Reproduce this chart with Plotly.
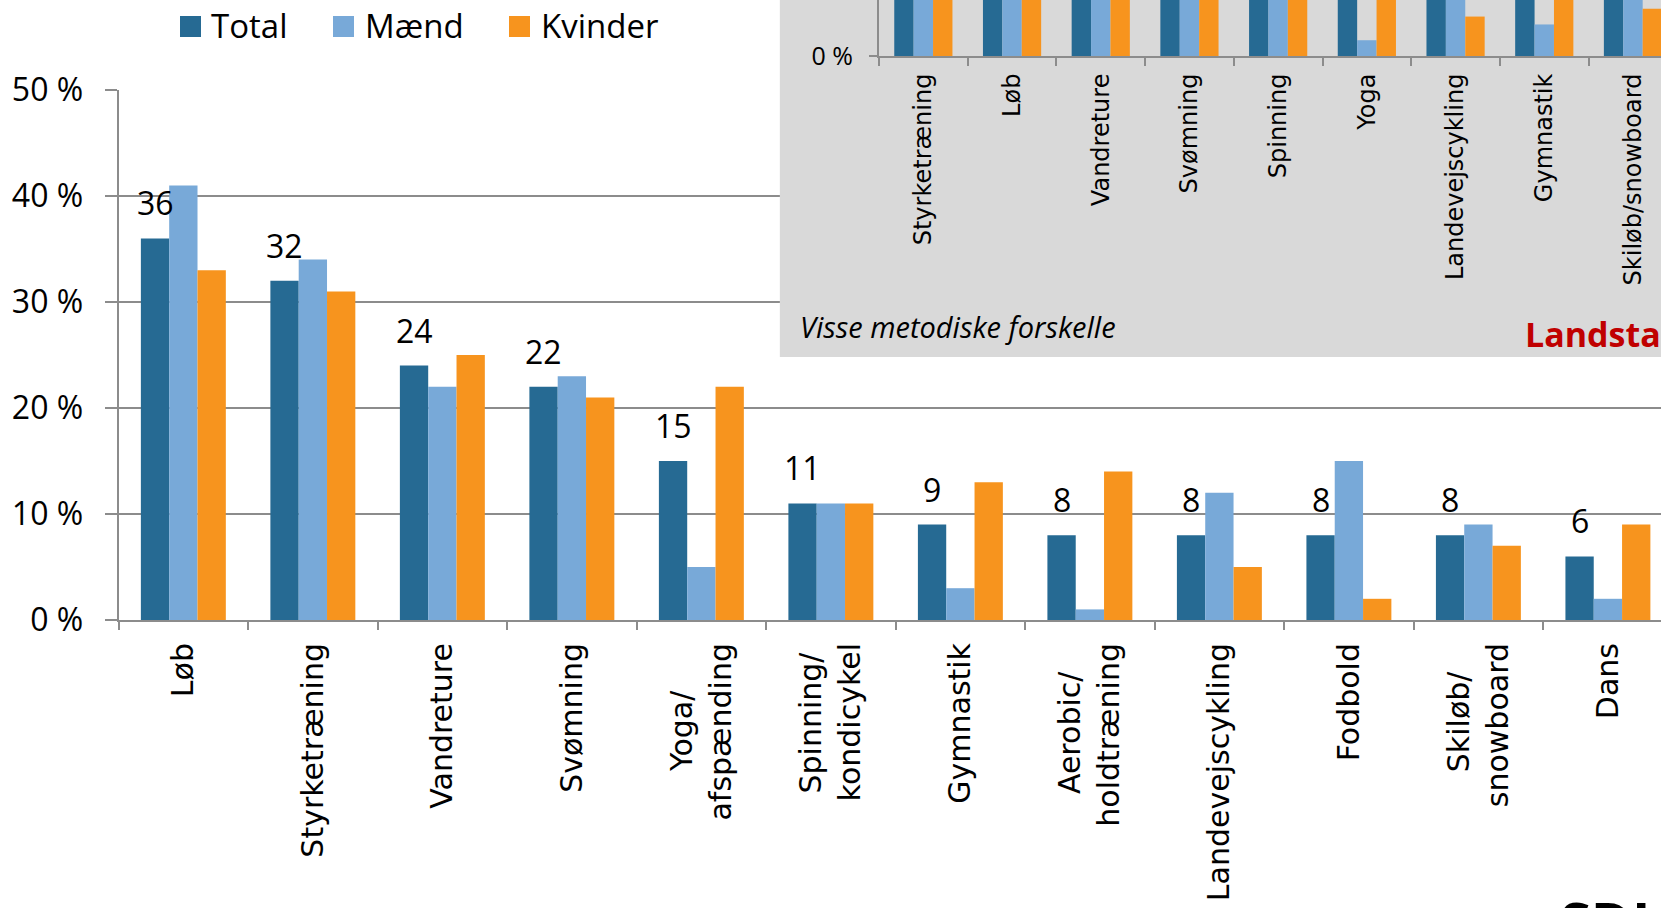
import plotly.graph_objects as go

# ---------------- data ----------------
categories = ["Løb", "Styrketræning", "Vandreture", "Svømning", "Yoga/afspænding",
              "Spinning/kondicykel", "Gymnastik", "Aerobic/holdtræning",
              "Landevejscykling", "Fodbold", "Skiløb/snowboard", "Dans"]
total = [36, 32, 24, 22, 15, 11, 9, 8, 8, 8, 8, 6]
maend = [41, 34, 22, 23, 5, 11, 3, 1, 12, 15, 9, 2]
kvinder = [33, 31, 25, 21, 22, 11, 13, 14, 5, 2, 7, 9]
y_ticks = [0, 10, 20, 30, 40, 50]
y_tick_text = ["0 %", "10 %", "20 %", "30 %", "40 %", "50 %"]

inset_categories = ["Styrketræning", "Løb", "Vandreture", "Svømning", "Spinning",
                    "Yoga", "Landevejscykling", "Gymnastik", "Skiløb/snowboard"]
inset_total = [24, 21, 19, 17, 12, 10, 9, 9, 9]
inset_maend = [23, 22, 17, 15, 11, 2, 13, 4, 11]
inset_kvinder = [25, 20, 21, 19, 13, 17, 5, 14, 6]

series_names = ["Total", "Mænd", "Kvinder"]

# ---------------- style ----------------
W, H = 1661, 908
C_TOTAL, C_MAEND, C_KVINDER = "#266A93", "#78A9D8", "#F7941E"
GRAY = "#8c8c8c"
NB = "\u00a0"
# padding (in no-break spaces) of the shorter line so two-line labels look centred
line_pad = {"Yoga/afspænding": 5, "Spinning/kondicykel": 1,
            "Aerobic/holdtræning": 3, "Skiløb/snowboard": 3}


def label(cat):
    if cat in line_pad:
        a, b = cat.split("/")
        return a + "/" + NB * line_pad[cat] + "<br>" + b
    return cat


x_labels = [label(c) for c in categories]

def px_x(p):
    return p / W

def px_y(p):
    return 1 - p / H

BARGAP = 0.344
main_left, main_top, main_bottom = 118.6, 90.0, 620.0
main_range = [-0.5, 11.41]
cat_px = (W - main_left) / (main_range[1] - main_range[0])
bar_px = cat_px * (1 - BARGAP) / 3

fig = go.Figure()

# main bars
for name, vals, col in zip(series_names, [total, maend, kvinder], [C_TOTAL, C_MAEND, C_KVINDER]):
    fig.add_trace(go.Bar(x=x_labels, y=vals, name=name, marker=dict(color=col, line=dict(width=0)),
                         xaxis="x", yaxis="y", hoverinfo="skip"))

# grey inset background (own subplot so that it covers the main grid lines)
fig.add_trace(go.Scatter(x=[0, 1, 1, 0, 0], y=[0, 0, 1, 1, 0], fill="toself", mode="lines",
                         fillcolor="#D9D9D9", line=dict(width=0), xaxis="x2", yaxis="y2",
                         hoverinfo="skip"))

# inset bars
for name, vals, col in zip(series_names, [inset_total, inset_maend, inset_kvinder],
                           [C_TOTAL, C_MAEND, C_KVINDER]):
    fig.add_trace(go.Bar(x=inset_categories, y=vals, name=name,
                         marker=dict(color=col, line=dict(width=0)),
                         xaxis="x3", yaxis="y3", hoverinfo="skip"))

annotations = []
# data labels above the Total bars
for c, v in zip(x_labels, total):
    annotations.append(dict(x=c, y=v, xref="x", yref="y", text=str(v), showarrow=False,
                            xanchor="center", yanchor="bottom", xshift=-bar_px, yshift=12,
                            font=dict(family="Open Sans", size=32, color="#000")))

# manual legend
legend_items = [(180, 209), (333, 363), (509, 539)]
shapes = []
for (sq_x, tx), name, col in zip(legend_items, series_names, [C_TOTAL, C_MAEND, C_KVINDER]):
    shapes.append(dict(type="rect", xref="paper", yref="paper",
                       x0=px_x(sq_x), x1=px_x(sq_x + 21), y0=px_y(37), y1=px_y(16),
                       fillcolor=col, line=dict(width=0)))
    annotations.append(dict(x=px_x(tx), y=px_y(25), xref="paper", yref="paper", text=name,
                            showarrow=False, xanchor="left", yanchor="middle",
                            font=dict(family="Open Sans", size=33, color="#000")))

annotations.append(dict(x=px_x(798), y=px_y(326), xref="paper", yref="paper",
                        text="<i>Visse metodiske forskelle</i>", showarrow=False,
                        xanchor="left", yanchor="middle",
                        font=dict(family="Open Sans", size=29, color="#000")))
annotations.append(dict(x=px_x(1523), y=px_y(334), xref="paper", yref="paper",
                        text="<b>Landstal</b>", showarrow=False,
                        xanchor="left", yanchor="middle",
                        font=dict(family="Open Sans", size=34, color="#C00000")))
annotations.append(dict(x=px_x(1558), y=px_y(881), xref="paper", yref="paper",
                        text="<b>SDU</b>", showarrow=False,
                        xanchor="left", yanchor="top",
                        font=dict(family="Open Sans", size=56, color="#000")))

fig.update_layout(
    width=W, height=H, autosize=False,
    margin=dict(l=0, r=0, t=0, b=0, pad=0),
    paper_bgcolor="white", plot_bgcolor="rgba(0,0,0,0)",
    barmode="group", bargap=BARGAP, bargroupgap=0,
    showlegend=False,
    font=dict(family="Open Sans", color="#000"),
    annotations=annotations, shapes=shapes,
    xaxis=dict(domain=[px_x(main_left), 1], range=main_range, type="category",
               tickson="boundaries", ticks="outside", ticklen=8, tickwidth=1.5, tickcolor=GRAY,
               showline=True, linecolor=GRAY, linewidth=2, showgrid=False,
               tickangle=-90, ticklabelstandoff=9, automargin=False,
               tickfont=dict(family="DejaVu Sans", size=30, color="#000"),
               anchor="y", fixedrange=True),
    yaxis=dict(domain=[px_y(main_bottom), px_y(main_top)], range=[0, 50],
               tickmode="array", tickvals=y_ticks, ticktext=y_tick_text,
               ticks="outside", ticklen=12, tickwidth=1.5, tickcolor=GRAY,
               showgrid=True, gridcolor=GRAY, gridwidth=1.5, zeroline=False,
               showline=True, linecolor=GRAY, linewidth=2, ticklabelstandoff=15,
               automargin=False,
               tickfont=dict(family="Open Sans", size=32, color="#000"),
               anchor="x", fixedrange=True),
    xaxis2=dict(domain=[px_x(779.6), 1], range=[0, 1], visible=False, anchor="y2",
                automargin=False, fixedrange=True),
    yaxis2=dict(domain=[px_y(357), 1], range=[0, 1], visible=False, anchor="x2",
                automargin=False, fixedrange=True),
    xaxis3=dict(domain=[px_x(879), 1], range=[-0.5, 8.316], type="category",
                tickson="boundaries", ticks="outside", ticklen=8, tickwidth=1.5, tickcolor=GRAY,
                showline=True, linecolor=GRAY, linewidth=2, showgrid=False,
                tickangle=-90, ticklabelstandoff=6, automargin=False,
                tickfont=dict(family="DejaVu Sans", size=24, color="#000"),
                anchor="y3", fixedrange=True),
    yaxis3=dict(domain=[px_y(56), 1], range=[0, 7.1],
                tickmode="array", tickvals=[0], ticktext=["0 %"],
                ticks="outside", ticklen=8, tickwidth=1.5, tickcolor=GRAY,
                showgrid=False, zeroline=False,
                showline=True, linecolor=GRAY, linewidth=2, ticklabelstandoff=11,
                automargin=False,
                tickfont=dict(family="Open Sans", size=25, color="#000"),
                anchor="x3", fixedrange=True),
)

fig.write_html("out.html", config={"displayModeBar": False},
               post_script="document.body.style.margin='0';document.body.style.overflow='hidden';")
